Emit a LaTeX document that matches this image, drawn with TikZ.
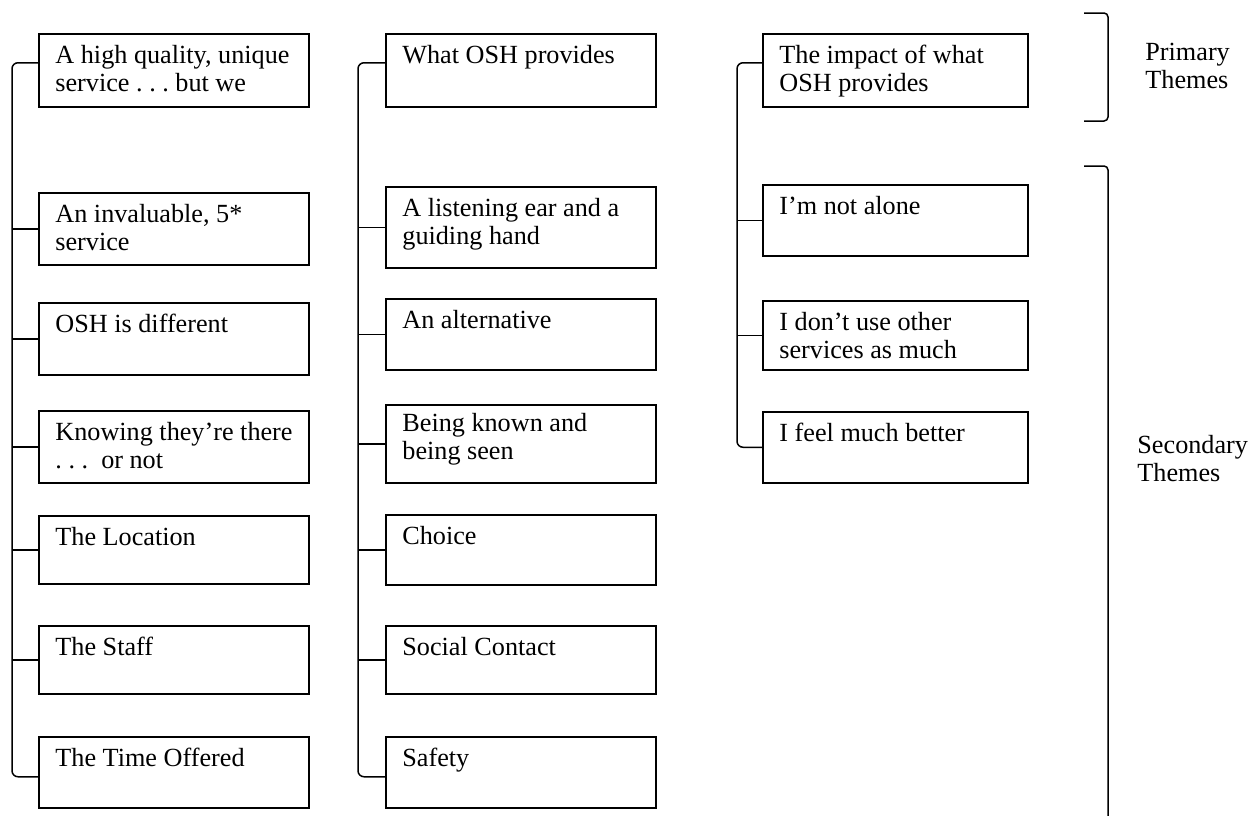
\documentclass[tikz,border=0pt]{standalone}
\usepackage{fontspec}
\setmainfont{Liberation Serif}
\begin{document}
\begin{tikzpicture}[x=0.5pt,y=-0.5pt,
  box/.style={draw,line width=0.75pt,rectangle,anchor=north west,minimum width=135pt,inner sep=0pt},
  boxn/.style={box,minimum width=132.5pt},
  lbl/.style={anchor=base west,inner sep=0pt,font=\fontsize{13.1pt}{14pt}\selectfont},
  conn/.style={line width=0.75pt,line join=round}]
\useasboundingbox (0,0) rectangle (1251,815);
% column 1
\node[box,minimum height=36.5pt] (b11) at (38,33) {};
\node[box,minimum height=36pt] (b12) at (38,192) {};
\node[box,minimum height=36pt] (b13) at (38,302) {};
\node[box,minimum height=36pt] (b14) at (38,410) {};
\node[box,minimum height=34pt] (b15) at (38,515) {};
\node[box,minimum height=34pt] (b16) at (38,625) {};
\node[box,minimum height=35.5pt] (b17) at (38,736) {};
% column 2
\node[box,minimum height=36.5pt] (b21) at (385,33) {};
\node[box,minimum height=40.5pt] (b22) at (385,186) {};
\node[box,minimum height=35.5pt] (b23) at (385,298) {};
\node[box,minimum height=39pt] (b24) at (385,404) {};
\node[box,minimum height=35pt] (b25) at (385,514) {};
\node[box,minimum height=34pt] (b26) at (385,625) {};
\node[box,minimum height=35.5pt] (b27) at (385,736) {};
% column 3
\node[boxn,minimum height=36.5pt] (b31) at (762,33) {};
\node[boxn,minimum height=35.5pt] (b32) at (762,184) {};
\node[boxn,minimum height=34.5pt] (b33) at (762,300) {};
\node[boxn,minimum height=35.5pt] (b34) at (762,411) {};
% labels
\path (b11.north west) ++(17,30) node[lbl] (t11) {\parbox[t]{132pt}{A high quality, unique\\service~.~.~.~but we}};
\path (b12.north west) ++(17,30) node[lbl] (t12) {\parbox[t]{132pt}{An invaluable, 5*\\service}};
\path (b13.north west) ++(17,30) node[lbl] (t13) {OSH is different};
\path (b14.north west) ++(17,30) node[lbl] (t14) {\parbox[t]{132pt}{Knowing they’re there\\.~.~.~~or not}};
\path (b15.north west) ++(17,30) node[lbl] (t15) {The Location};
\path (b16.north west) ++(17,30) node[lbl] (t16) {The Staff};
\path (b17.north west) ++(17,30) node[lbl] (t17) {The Time Offered};
\path (b21.north west) ++(17,30) node[lbl] (t21) {What OSH provides};
\path (b22.north west) ++(17,30) node[lbl] (t22) {\parbox[t]{132pt}{A listening ear and a\\guiding hand}};
\path (b23.north west) ++(17,30) node[lbl] (t23) {An alternative};
\path (b24.north west) ++(17,27) node[lbl] (t24) {\parbox[t]{132pt}{Being known and\\being seen}};
\path (b25.north west) ++(17,30) node[lbl] (t25) {Choice};
\path (b26.north west) ++(17,30) node[lbl] (t26) {Social Contact};
\path (b27.north west) ++(17,30) node[lbl] (t27) {Safety};
\path (b31.north west) ++(17,30) node[lbl] (t31) {\parbox[t]{130pt}{The impact of what\\OSH provides}};
\path (b32.north west) ++(17,30) node[lbl] (t32) {I’m not alone};
\path (b33.north west) ++(17,30) node[lbl] (t33) {\parbox[t]{130pt}{I don’t use other\\services as much}};
\path (b34.north west) ++(17,30) node[lbl] (t34) {I feel much better};
% trunks
\coordinate (k1) at (12,0);
\coordinate (k2) at (358,0);
\coordinate (k3) at (737,0);
\coordinate (c1t) at ([yshift=3.75pt]b11.west);
\coordinate (c1b) at ([yshift=-2.25pt]b17.west);
\coordinate (c2t) at ([yshift=3.75pt]b21.west);
\coordinate (c2b) at ([yshift=-2.25pt]b27.west);
\coordinate (c3t) at ([yshift=3.75pt]b31.west);
\coordinate (c3b) at (b34.west);
\draw[conn,rounded corners=3pt] (c1t) -- (c1t -| k1) -- (c1b -| k1) -- (c1b);
\draw[conn,rounded corners=3pt] (c2t) -- (c2t -| k2) -- (c2b -| k2) -- (c2b);
\draw[conn,rounded corners=3pt] (c3t) -- (c3t -| k3) -- (c3b -| k3) -- (c3b);
\foreach \b in {b12,b13,b14,b15,b16}{\draw[conn] (\b.west) -- (\b.west -| k1);}
\foreach \b in {b22,b23,b24,b25,b26}{\draw[conn] (\b.west) -- (\b.west -| k2);}
\foreach \b in {b32,b33}{\draw[conn] (\b.west) -- (\b.west -| k3);}
% brackets
\coordinate (p1) at (1084,13);
\coordinate (p2) at (1108,13);
\coordinate (p3) at (1108,121);
\coordinate (p4) at (1084,121);
\draw[conn,rounded corners=2pt] (p1) -- (p2) -- (p3) -- (p4);
\coordinate (s1) at (1084,166);
\coordinate (s2) at (1108,166);
\coordinate (s3) at (1108,816);
\draw[conn,rounded corners=2pt] (s1) -- (s2) -- (s3);
\node[lbl] (prim) at (1145,60) {\parbox[t]{60pt}{Primary\\Themes}};
\node[lbl] (sec) at (1137,453) {\parbox[t]{60pt}{Secondary\\Themes}};
\end{tikzpicture}
\end{document}
